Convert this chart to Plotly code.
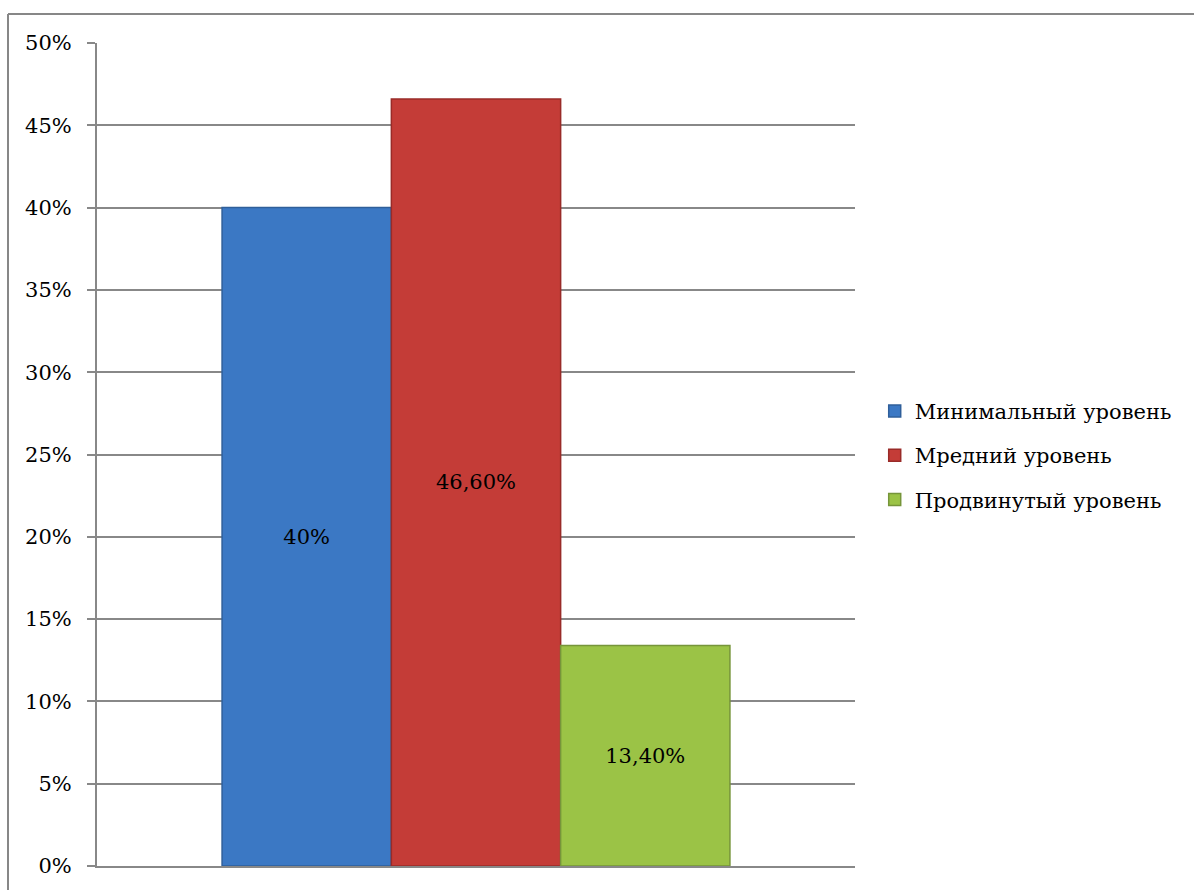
import plotly.graph_objects as go

# Distribution of students by level
levels = ["Минимальный уровень", "Мредний уровень", "Продвинутый уровень"]
shares = [0.40, 0.466, 0.134]
share_labels = ["40%", "46,60%", "13,40%"]
colors = ["#3B78C4", "#C43C37", "#9BC346"]
edge_colors = ["#2F5F9A", "#992B28", "#76953A"]

y_ticks = [0, 0.05, 0.10, 0.15, 0.20, 0.25, 0.30, 0.35, 0.40, 0.45, 0.50]
y_tick_labels = ["0%", "5%", "10%", "15%", "20%", "25%", "30%", "35%", "40%", "45%", "50%"]

FONT = "DejaVu Serif"
GRID = "#888888"

fig = go.Figure()
for i, (name, val, lab, col, edge) in enumerate(zip(levels, shares, share_labels, colors, edge_colors)):
    fig.add_trace(go.Bar(
        x=[""],
        y=[val],
        name=name,
        text=[lab],
        textposition="inside",
        insidetextanchor="middle",
        textangle=0,
        textfont=dict(family=FONT, size=21, color="black"),
        marker=dict(color=col, line=dict(color=edge, width=1.5)),
        legendgroup=f"g{i}",
    ))

fig.update_layout(
    width=1194,
    height=890,
    paper_bgcolor="white",
    plot_bgcolor="white",
    barmode="group",
    bargap=0.33,
    bargroupgap=0,
    margin=dict(l=97, r=339, t=43, b=21),
    font=dict(family=FONT, size=21, color="black"),
    showlegend=True,
    legend=dict(
        x=1.026, y=0.499, xanchor="left", yanchor="middle",
        font=dict(family=FONT, size=21, color="black"),
        tracegroupgap=14,
        itemwidth=30,
        bgcolor="rgba(0,0,0,0)",
    ),
    xaxis=dict(
        showticklabels=False,
        showgrid=False,
        showline=True,
        linecolor=GRID,
        linewidth=2,
        ticks="",
        zeroline=False,
        fixedrange=True,
    ),
    yaxis=dict(
        range=[0, 0.5],
        tickvals=y_ticks,
        ticktext=y_tick_labels,
        showgrid=True,
        gridcolor=GRID,
        gridwidth=1.5,
        showline=True,
        linecolor=GRID,
        linewidth=2,
        ticks="outside",
        ticklen=8,
        tickcolor=GRID,
        tickwidth=1.5,
        ticklabelstandoff=11,
        tickfont=dict(family=FONT, size=21, color="black"),
        zeroline=False,
    ),
)

# Outer chart frame (left and top edges)
x_left = (8 - 97) / 758
y_top = (869 - 14) / 826
fig.add_shape(type="line", xref="paper", yref="paper",
              x0=x_left, x1=x_left, y0=-0.1, y1=y_top,
              line=dict(color="#878787", width=2))
fig.add_shape(type="line", xref="paper", yref="paper",
              x0=x_left, x1=1.5, y0=y_top, y1=y_top,
              line=dict(color="#878787", width=2))

fig.write_html("out.html")
